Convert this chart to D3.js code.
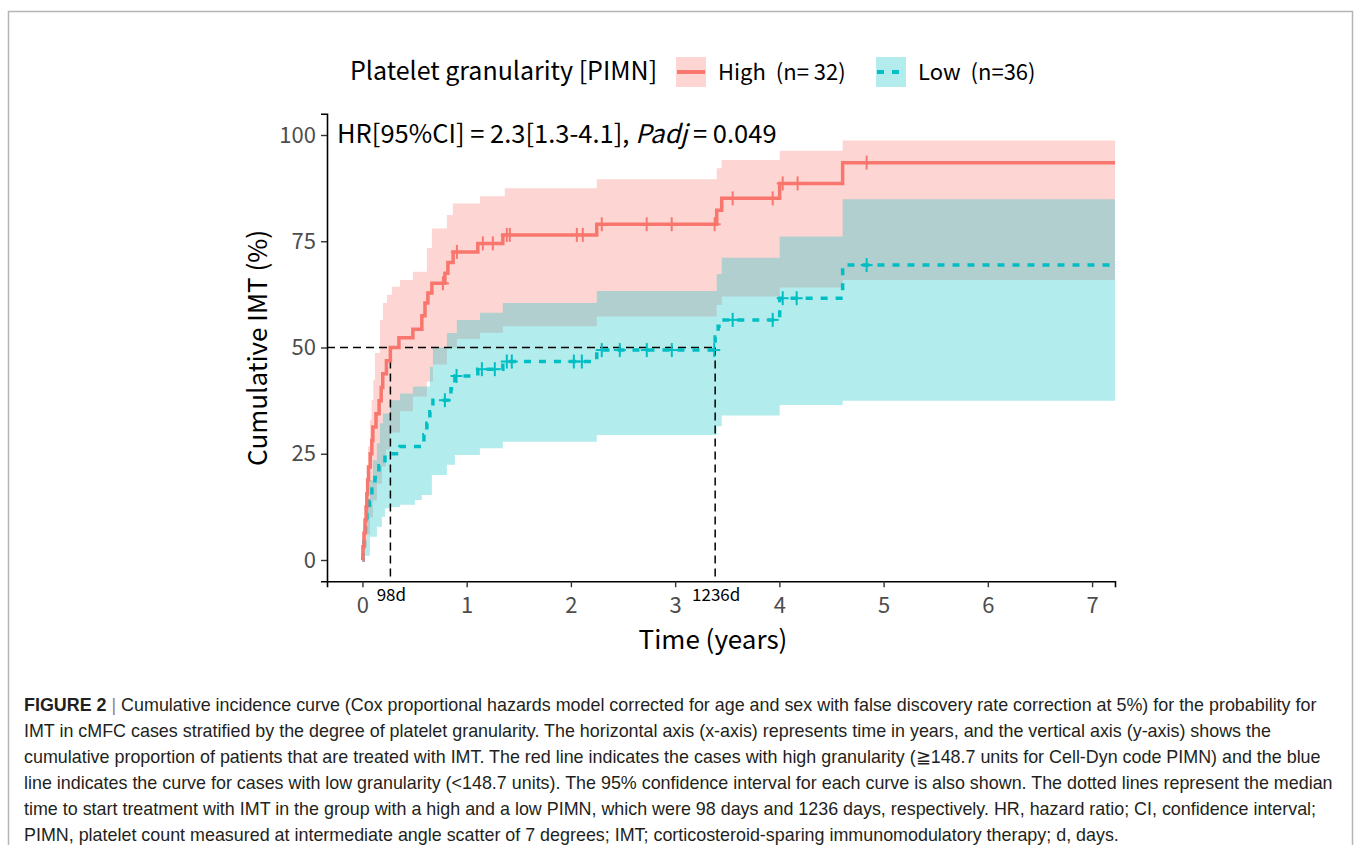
<!DOCTYPE html>
<html>
<head>
<meta charset="utf-8">
<script src="https://cdn.jsdelivr.net/npm/d3@7"></script>
<style>
  body { margin: 0; background: #fff; }
  svg { display: block; }
</style>
</head>
<body>
<svg id="chart" width="1354" height="845"></svg>
<script>
// cumulative IMT curves (time in years, value in %)
const highT = [0, 0.005, 0.015, 0.025, 0.035, 0.042, 0.05, 0.058, 0.075, 0.09, 0.1, 0.13, 0.16, 0.18, 0.195, 0.23, 0.268, 0.35, 0.484, 0.57, 0.6, 0.628, 0.666, 0.791, 0.82, 0.87, 1.107, 1.347, 2.248, 3.399, 3.447, 4.003, 4.607];
const highY = [0, 3.1, 6.3, 9.4, 12.5, 15.6, 18.8, 21.9, 25, 28.1, 31.3, 34.4, 37.5, 40.6, 43.8, 46.9, 50, 52.3, 54.3, 57.5, 60.5, 62.8, 65.1, 67.5, 70, 72.5, 74.5, 76.5, 79, 82.3, 85.1, 88.6, 93.5];
const lowT = [0, 0.005, 0.014, 0.029, 0.043, 0.067, 0.091, 0.12, 0.158, 0.216, 0.36, 0.59, 0.618, 0.647, 0.676, 0.849, 0.887, 1.107, 1.347, 2.248, 3.384, 3.413, 3.447, 4.003, 4.607];
const lowY = [0, 2.8, 5.6, 8.3, 11.1, 13.9, 16.7, 19.4, 22.2, 25, 26.7, 29.5, 32.2, 34.9, 37.6, 40.3, 43.3, 44.9, 46.7, 49.4, 52.5, 55, 56.5, 61.6, 69.4];

// censor marks
const highCensor = [0.772, 0.906, 1.155, 1.251, 1.385, 1.414, 2.057, 2.114, 2.296, 2.727, 2.967, 3.379, 3.552, 3.936, 4.032, 4.175, 4.837];
const lowCensor = [0.791, 0.903, 1.146, 1.27, 1.385, 1.433, 2.028, 2.105, 2.296, 2.469, 2.728, 2.968, 3.375, 3.552, 3.936, 4.032, 4.166, 4.837];

// 95% CI bands
const highUpT = [0, 0.005, 0.04, 0.053, 0.072, 0.088, 0.104, 0.12, 0.168, 0.197, 0.235, 0.283, 0.36, 0.484, 0.618, 0.666, 0.81, 0.868, 1.127, 1.366, 2.248, 3.399, 3.447, 4.003, 4.607];
const highUpY = [0, 7, 18, 26.7, 33, 37.6, 42.4, 48.7, 56.5, 60.5, 62.4, 64.3, 65.9, 67.8, 73.4, 78, 81.2, 83.9, 85.6, 87.5, 89.6, 92.2, 94.1, 96.3, 98.7];
const highLoT = [0, 0.024, 0.043, 0.072, 0.1, 0.139, 0.187, 0.225, 0.264, 0.36, 0.484, 0.618, 0.676, 0.81, 0.906, 1.127, 1.347, 2.248, 3.399, 3.447, 4.003, 4.607];
const highLoY = [0, 3, 6, 10, 14, 18, 22, 26, 30, 35, 38.5, 42, 46, 50, 52, 53.5, 55, 57.3, 60, 62, 64.1, 65.9];
const lowUpT = [0, 0.005, 0.043, 0.072, 0.1, 0.139, 0.168, 0.197, 0.264, 0.36, 0.484, 0.647, 0.676, 0.81, 0.906, 1.127, 1.347, 2.248, 3.399, 3.447, 4.003, 4.607];
const lowUpY = [0, 4.7, 12.5, 18.8, 23.5, 27.5, 32.2, 34.5, 37.6, 39.2, 40.8, 45.5, 50, 53.4, 56.5, 58.2, 60.5, 63.3, 67.3, 71.1, 76.1, 84.9];
const lowLoT = [0, 0.024, 0.072, 0.139, 0.187, 0.216, 0.264, 0.36, 0.503, 0.57, 0.666, 0.81, 0.887, 1.127, 1.347, 2.248, 3.399, 3.447, 4.003, 4.607];
const lowLoY = [0, 1, 5.5, 7.8, 10.2, 12.2, 12.5, 13, 14.1, 15.3, 20, 22.4, 24.7, 26.3, 27.8, 29.4, 31.5, 34, 36.5, 37.5];

const medianDays = [98, 1236];
const xTicks = [0, 1, 2, 3, 4, 5, 6, 7];
const yTicks = [0, 25, 50, 75, 100];

const captionLines = [
  "Cumulative incidence curve (Cox proportional hazards model corrected for age and sex with false discovery rate correction at 5%) for the probability for",
  "IMT in cMFC cases stratified by the degree of platelet granularity. The horizontal axis (x-axis) represents time in years, and the vertical axis (y-axis) shows the",
  "cumulative proportion of patients that are treated with IMT. The red line indicates the cases with high granularity (\u2267148.7 units for Cell-Dyn code PIMN) and the blue",
  "line indicates the curve for cases with low granularity (<148.7 units). The 95% confidence interval for each curve is also shown. The dotted lines represent the median",
  "time to start treatment with IMT in the group with a high and a low PIMN, which were 98 days and 1236 days, respectively. HR, hazard ratio; CI, confidence interval;",
  "PIMN, platelet count measured at intermediate angle scatter of 7 degrees; IMT; corticosteroid-sparing immunomodulatory therapy; d, days."
];

const red = "#F8766D", teal = "#00BFC4";
const font = "'Noto Sans CJK KR', 'Open Sans', sans-serif";

const svg = d3.select("#chart");

// figure frame
svg.append("rect")
  .attr("x", 8.5).attr("y", 11.5)
  .attr("width", 1344).attr("height", 850)
  .attr("fill", "none")
  .attr("stroke", "#b5b5b5")
  .attr("stroke-width", 1.5);

const xMin = -0.34, xMax = 7.22;
const x = d3.scaleLinear().domain([xMin, xMax]).range([327, 1115]);
const y = d3.scaleLinear().domain([-5, 105]).range([581.25, 113.75]);

function stepAt(ts, ys, t) {
  let i = d3.bisectRight(ts, t) - 1;
  return ys[Math.max(0, i)];
}

function bandRows(upT, upY, loT, loY) {
  const times = Array.from(new Set(upT.concat(loT))).sort((a, b) => a - b);
  const rows = times.map(t => ({t: t, lo: stepAt(loT, loY, t), hi: stepAt(upT, upY, t)}));
  rows.push({t: xMax, lo: loY[loY.length - 1], hi: upY[upY.length - 1]});
  return rows;
}

const area = d3.area()
  .curve(d3.curveStepAfter)
  .x(d => x(d.t))
  .y0(d => y(d.lo))
  .y1(d => y(d.hi));

svg.append("path")
  .datum(bandRows(highUpT, highUpY, highLoT, highLoY))
  .attr("fill", red).attr("fill-opacity", 0.3)
  .attr("d", area);
svg.append("path")
  .datum(bandRows(lowUpT, lowUpY, lowLoT, lowLoY))
  .attr("fill", teal).attr("fill-opacity", 0.3)
  .attr("d", area);

// median lines
const medYears = medianDays.map(d => d / 365.25);
svg.append("line")
  .attr("x1", x(xMin)).attr("x2", x(medYears[1]))
  .attr("y1", y(50)).attr("y2", y(50))
  .attr("stroke", "#000").attr("stroke-width", 1.5)
  .attr("stroke-dasharray", "8,5");
medYears.forEach(m => {
  svg.append("line")
    .attr("x1", x(m)).attr("x2", x(m))
    .attr("y1", y(50)).attr("y2", y(-5))
    .attr("stroke", "#000").attr("stroke-width", 1.5)
    .attr("stroke-dasharray", "8,5");
});

// curves
const line = d3.line()
  .curve(d3.curveStepAfter)
  .x(d => x(d[0]))
  .y(d => y(d[1]));

function curvePoints(ts, ys) {
  const pts = ts.map((t, i) => [t, ys[i]]);
  pts.push([xMax, ys[ys.length - 1]]);
  return pts;
}

function censorMarks(ts, ys, cens, color) {
  cens.forEach(c => {
    const cx = x(c), cy = y(stepAt(ts, ys, c));
    svg.append("line")
      .attr("x1", cx).attr("x2", cx).attr("y1", cy - 7).attr("y2", cy + 7)
      .attr("stroke", color).attr("stroke-width", 2);
    svg.append("line")
      .attr("x1", cx - 6).attr("x2", cx + 6).attr("y1", cy).attr("y2", cy)
      .attr("stroke", color).attr("stroke-width", 2);
  });
}

svg.append("path")
  .datum(curvePoints(lowT, lowY))
  .attr("fill", "none")
  .attr("stroke", teal)
  .attr("stroke-width", 3.5)
  .attr("stroke-dasharray", "7,8")
  .attr("d", line);
censorMarks(lowT, lowY, lowCensor, teal);

svg.append("path")
  .datum(curvePoints(highT, highY))
  .attr("fill", "none")
  .attr("stroke", red)
  .attr("stroke-width", 3.5)
  .attr("d", line);
censorMarks(highT, highY, highCensor, red);

// axes
const xAxis = svg.append("g")
  .attr("transform", `translate(0,${y(-5)})`)
  .call(d3.axisBottom(x).tickValues(xTicks).tickSize(6).tickPadding(10).tickFormat(d3.format("d")));
const yAxis = svg.append("g")
  .attr("transform", `translate(${x(xMin)},0)`)
  .call(d3.axisLeft(y).tickValues(yTicks).tickSize(6).tickPadding(5));
[xAxis, yAxis].forEach(a => {
  a.select(".domain").attr("stroke", "#000").attr("stroke-width", 1.6);
  a.selectAll(".tick line").attr("stroke", "#333").attr("stroke-width", 1.4);
  a.selectAll(".tick text")
    .attr("fill", "#4d4d4d")
    .attr("font-family", font)
    .attr("font-size", 22);
});

// median labels
medianDays.forEach((d, i) => {
  svg.append("text")
    .attr("x", x(medYears[i]) + 1)
    .attr("y", 601)
    .attr("text-anchor", "middle")
    .attr("font-family", font)
    .attr("font-size", 17)
    .attr("fill", "#000")
    .text(d + "d");
});

// axis titles
svg.append("text")
  .attr("x", 713).attr("y", 649)
  .attr("text-anchor", "middle")
  .attr("font-family", font).attr("font-size", 26)
  .text("Time (years)");
svg.append("text")
  .attr("transform", "translate(267,348) rotate(-90)")
  .attr("text-anchor", "middle")
  .attr("font-family", font).attr("font-size", 26)
  .text("Cumulative IMT (%)");

// HR annotation
const hr = svg.append("text")
  .attr("x", 337).attr("y", 143)
  .attr("font-family", font).attr("font-size", 25.5)
  .style("white-space", "pre");
hr.append("tspan").text("HR[95%CI] = 2.3[1.3-4.1], ");
hr.append("tspan").attr("font-style", "italic").text("Padj");
hr.append("tspan").text(" = 0.049");

// legend
svg.append("text")
  .attr("x", 350).attr("y", 80)
  .attr("font-family", font).attr("font-size", 25)
  .text("Platelet granularity [PIMN]");
const legendItems = [
  {label: "High", n: "(n= 32)", color: red, dash: null, kx: 676},
  {label: "Low", n: "(n=36)", color: teal, dash: "7,8", kx: 876}
];
legendItems.forEach(it => {
  svg.append("rect")
    .attr("x", it.kx).attr("y", 57).attr("width", 30).attr("height", 30)
    .attr("fill", it.color).attr("fill-opacity", 0.3);
  svg.append("line")
    .attr("x1", it.kx + 1).attr("x2", it.kx + 29)
    .attr("y1", 72).attr("y2", 72)
    .attr("stroke", it.color).attr("stroke-width", 4)
    .attr("stroke-dasharray", it.dash);
  const t = svg.append("text")
    .attr("x", it.kx + 42).attr("y", 80)
    .attr("font-family", font).attr("font-size", 22);
  t.append("tspan").text(it.label);
  t.append("tspan").attr("dx", 10).text(it.n);
});

// caption
const capFont = "'Liberation Sans', Arial, sans-serif";
captionLines.forEach((ln, i) => {
  const t = svg.append("text")
    .attr("x", 24)
    .attr("y", 711 + i * 26)
    .attr("font-family", capFont)
    .attr("font-size", 17.9)
    .attr("fill", "#231f20");
  if (i === 0) {
    t.append("tspan").attr("font-weight", "bold").text("FIGURE 2");
    t.append("tspan").attr("fill", "#888").text(" | ");
  }
  t.append("tspan").text(ln);
});
</script>
</body>
</html>
